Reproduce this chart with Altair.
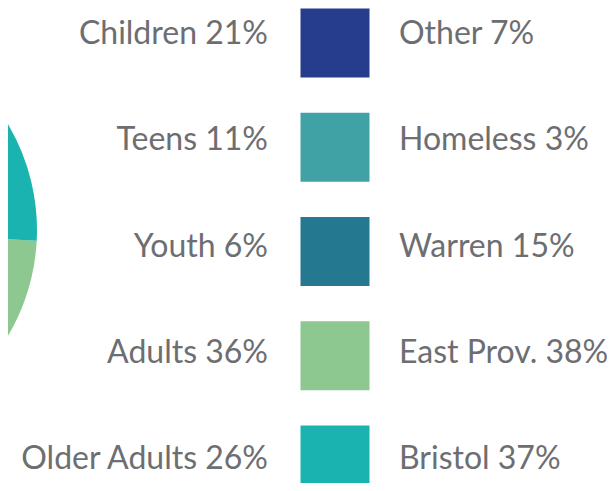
import math
import altair as alt
import pandas as pd

# Data
age_groups = ["Children", "Teens", "Youth", "Adults", "Older Adults"]
age_pct = [21, 11, 6, 36, 26]
locations = ["Other", "Homeless", "Warren", "East Prov.", "Bristol"]
loc_pct = [7, 3, 15, 38, 37]
colors = ["#253d8c", "#41a2a6", "#24788f", "#8dc891", "#1ab3af"]

rows = pd.DataFrame({
    "row": list(range(5)),
    "age_label": [f"{a} {p}%" for a, p in zip(age_groups, age_pct)],
    "loc_label": [f"{l} {p}%" for l, p in zip(locations, loc_pct)],
    "color": colors,
})

pie_order = ["East Prov.", "Warren", "Homeless", "Other", "Bristol"]
pie = pd.DataFrame({
    "location": locations,
    "pct": loc_pct,
    "color": colors,
})
pie["order"] = pie["location"].map({k: i for i, k in enumerate(pie_order)})

W, H = 599, 475
sq_scale = alt.Scale(domain=[0, 4], range=[35, 452])
tx_scale = alt.Scale(domain=[0, 4], range=[26, 451])
start = math.radians(93)

arc = alt.Chart(pie).mark_arc(outerRadius=207).encode(
    theta=alt.Theta("pct:Q", stack=True, scale=alt.Scale(range=[start, start + 2 * math.pi])),
    color=alt.Color("color:N", scale=None),
    order=alt.Order("order:Q"),
    x=alt.value(-178),
    y=alt.value(222),
)

squares = alt.Chart(rows).mark_square(size=4761, opacity=1).encode(
    x=alt.value(327),
    y=alt.Y("row:Q", scale=sq_scale, axis=None),
    color=alt.Color("color:N", scale=None),
)

text_style = dict(font="Lato", fontSize=32, color="#6d6e71", baseline="middle")

left = alt.Chart(rows).mark_text(align="right", **text_style).encode(
    x=alt.value(260),
    y=alt.Y("row:Q", scale=tx_scale, axis=None),
    text="age_label:N",
)

right = alt.Chart(rows).mark_text(align="left", **text_style).encode(
    x=alt.value(391),
    y=alt.Y("row:Q", scale=tx_scale, axis=None),
    text="loc_label:N",
)

labels = alt.layer(left, right)

chart = alt.layer(arc, squares, labels).resolve_scale(y="independent").properties(
    width=W, height=H, autosize=alt.AutoSizeParams(type="none"), padding=0
).configure_view(stroke=None)

chart.save("out.html", embed_options={"renderer": "svg", "actions": False})
